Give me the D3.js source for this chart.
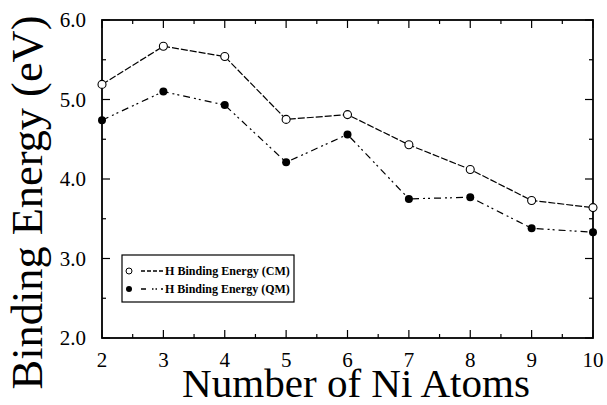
<!DOCTYPE html>
<html><head><meta charset="utf-8">
<script src="https://cdn.jsdelivr.net/npm/d3@7"></script>
<style>body{margin:0;background:#fff}svg{display:block}
text{font-family:"Liberation Serif","Times New Roman",Times,serif}</style>
</head><body>
<svg id="c" width="607" height="405"></svg>
<script>
const atoms = [2,3,4,5,6,7,8,9,10];
const cmValues = [5.19,5.67,5.54,4.75,4.81,4.43,4.12,3.73,3.64];
const qmValues = [4.74,5.10,4.93,4.21,4.56,3.75,3.77,3.38,3.33];
const yTicks = [2.0,3.0,4.0,5.0,6.0];
const xTicks = [2,3,4,5,6,7,8,9,10];
const legendLabels = ["H Binding Energy (CM)","H Binding Energy (QM)"];

const svg = d3.select("#c");
const L=102,R=593,T=20,B=338;
const x = d3.scaleLinear().domain([2,10]).range([L,R]);
const y = d3.scaleLinear().domain([2,6]).range([B,T]);

// ticks (inward, all four sides)
const g = svg.append("g").attr("stroke","#000").attr("stroke-width",1.2);
const xMinor = d3.range(2.5,10,1);
const yMinor = d3.range(2.5,6,1);
xTicks.forEach(v=>{
  g.append("line").attr("x1",x(v)).attr("x2",x(v)).attr("y1",B).attr("y2",B-8);
  g.append("line").attr("x1",x(v)).attr("x2",x(v)).attr("y1",T).attr("y2",T+8);
});
xMinor.forEach(v=>{
  g.append("line").attr("x1",x(v)).attr("x2",x(v)).attr("y1",B).attr("y2",B-4);
  g.append("line").attr("x1",x(v)).attr("x2",x(v)).attr("y1",T).attr("y2",T+4);
});
yTicks.forEach(v=>{
  g.append("line").attr("y1",y(v)).attr("y2",y(v)).attr("x1",L).attr("x2",L+8);
  g.append("line").attr("y1",y(v)).attr("y2",y(v)).attr("x1",R).attr("x2",R-8);
});
yMinor.forEach(v=>{
  g.append("line").attr("y1",y(v)).attr("y2",y(v)).attr("x1",L).attr("x2",L+4);
  g.append("line").attr("y1",y(v)).attr("y2",y(v)).attr("x1",R).attr("x2",R-4);
});
svg.append("rect").attr("x",L).attr("y",T).attr("width",R-L).attr("height",B-T)
  .attr("fill","none").attr("stroke","#000").attr("stroke-width",1.8);

// tick labels
svg.append("g").selectAll("text").data(yTicks).join("text")
  .attr("x",86).attr("y",d=>y(d)+7).attr("text-anchor","end")
  .style("font-size","21px").text(d=>d.toFixed(1));
svg.append("g").selectAll("text").data(xTicks).join("text")
  .attr("x",d=>x(d)).attr("y",367).attr("text-anchor","middle")
  .style("font-size","21px").text(d=>d);

// titles
function fit(sel,target,fs){sel.style("font-size",fs+"px");const w=sel.node().getComputedTextLength();sel.style("font-size",(fs*target/w)+"px");}
const xt = svg.append("text").attr("x",(182+530)/2).attr("y",397).attr("text-anchor","middle")
  .text("Number of Ni Atoms");
fit(xt,348,40);
const yt = svg.append("text").attr("transform","translate(42,"+((15+390)/2)+") rotate(-90)")
  .attr("text-anchor","middle").text("Binding Energy (eV)");
fit(yt,374,40);

// lines
const line = d3.line().x((d,i)=>x(atoms[i])).y(d=>y(d));
svg.append("path").datum(cmValues).attr("d",line).attr("fill","none")
  .attr("stroke","#000").attr("stroke-width",1.2).attr("stroke-dasharray","7,2");
svg.append("path").datum(qmValues).attr("d",line).attr("fill","none")
  .attr("stroke","#000").attr("stroke-width",1.2).attr("stroke-dasharray","7,4,2,3,2,4");

svg.append("g").selectAll("circle").data(cmValues).join("circle")
  .attr("cx",(d,i)=>x(atoms[i])).attr("cy",d=>y(d)).attr("r",4)
  .attr("fill","#fff").attr("stroke","#000").attr("stroke-width",1.1);
svg.append("g").selectAll("circle").data(qmValues).join("circle")
  .attr("cx",(d,i)=>x(atoms[i])).attr("cy",d=>y(d)).attr("r",4)
  .attr("fill","#000");

// legend
svg.append("rect").attr("x",122).attr("y",255).attr("width",172).attr("height",47)
  .attr("fill","#fff").attr("stroke","#000").attr("stroke-width",1.2);
const ly=[271,289];
svg.append("circle").attr("cx",129).attr("cy",ly[0]).attr("r",3).attr("fill","#fff").attr("stroke","#000").attr("stroke-width",1);
svg.append("circle").attr("cx",129).attr("cy",ly[1]).attr("r",3).attr("fill","#000");
svg.append("line").attr("x1",141).attr("x2",163).attr("y1",ly[0]).attr("y2",ly[0])
  .attr("stroke","#000").attr("stroke-width",1.3).attr("stroke-dasharray","4,2");
svg.append("line").attr("x1",141).attr("x2",163).attr("y1",ly[1]).attr("y2",ly[1])
  .attr("stroke","#000").attr("stroke-width",1.3).attr("stroke-dasharray","5,6,1.5,2,1.5,4");
legendLabels.forEach((t,i)=>{
  const tx=svg.append("text").attr("x",165).attr("y",ly[i]+4).style("font-weight","bold").text(t);
  fit(tx,125,12);
});
</script>
</body></html>
